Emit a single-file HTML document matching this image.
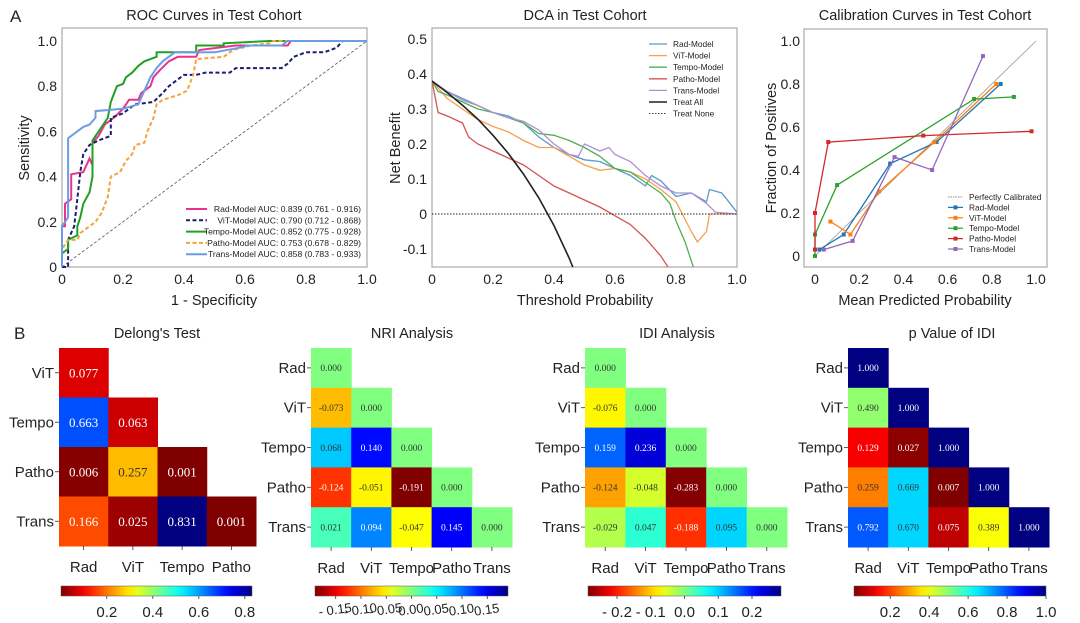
<!DOCTYPE html>
<html><head><meta charset="utf-8"><style>
html,body{margin:0;padding:0;background:#fff;}
svg{display:block;font-family:"Liberation Sans",sans-serif;}
</style></head><body>
<svg id="fig" width="1080" height="623" viewBox="0 0 1080 623" xmlns="http://www.w3.org/2000/svg"></svg>
<script>
// ---------- ROC data ----------
const rocNames=["Rad-Model AUC: 0.839 (0.761 - 0.916)","ViT-Model AUC: 0.790 (0.712 - 0.868)","Tempo-Model AUC: 0.852 (0.775 - 0.928)","Patho-Model AUC: 0.753 (0.678 - 0.829)","Trans-Model AUC: 0.858 (0.783 - 0.933)"];
const rocRad=[[0,0],[0,0.18],[0.01,0.18],[0.01,0.28],[0.03,0.30],[0.03,0.41],[0.07,0.42],[0.09,0.48],[0.10,0.45],[0.10,0.55],[0.12,0.58],[0.14,0.63],[0.17,0.66],[0.20,0.70],[0.22,0.74],[0.25,0.74],[0.26,0.77],[0.29,0.80],[0.30,0.84],[0.32,0.87],[0.35,0.91],[0.38,0.93],[0.44,0.93],[0.45,0.96],[0.57,0.98],[0.74,0.98],[0.75,1.0],[1,1]];
const rocViT=[[0,0],[0.02,0],[0.02,0.12],[0.04,0.18],[0.05,0.30],[0.06,0.42],[0.07,0.50],[0.09,0.54],[0.12,0.56],[0.16,0.58],[0.16,0.66],[0.20,0.68],[0.24,0.72],[0.30,0.73],[0.33,0.77],[0.35,0.80],[0.38,0.83],[0.40,0.85],[0.44,0.85],[0.47,0.86],[0.55,0.86],[0.57,0.88],[0.72,0.88],[0.74,0.90],[0.76,0.93],[0.80,0.95],[0.86,0.95],[0.90,0.97],[0.92,1.0],[1,1]];
const rocTempo=[[0,0],[0,0.06],[0.02,0.08],[0.02,0.12],[0.05,0.14],[0.05,0.18],[0.06,0.22],[0.07,0.28],[0.09,0.33],[0.10,0.40],[0.10,0.56],[0.13,0.62],[0.15,0.66],[0.16,0.73],[0.18,0.80],[0.20,0.81],[0.21,0.84],[0.23,0.86],[0.25,0.89],[0.27,0.91],[0.31,0.93],[0.31,0.95],[0.44,0.95],[0.44,0.98],[0.53,0.98],[0.53,0.99],[0.68,1.0],[1,1]];
const rocPatho=[[0,0],[0,0.08],[0.02,0.12],[0.05,0.12],[0.06,0.15],[0.08,0.17],[0.11,0.20],[0.13,0.24],[0.15,0.31],[0.16,0.40],[0.19,0.42],[0.21,0.47],[0.23,0.50],[0.24,0.54],[0.27,0.55],[0.28,0.60],[0.30,0.66],[0.31,0.72],[0.33,0.74],[0.38,0.76],[0.41,0.78],[0.43,0.85],[0.44,0.92],[0.53,0.93],[0.56,0.96],[0.62,0.98],[0.68,0.99],[0.69,1.0],[1,1]];
const rocTrans=[[0,0],[0,0.18],[0.02,0.22],[0.02,0.57],[0.05,0.60],[0.07,0.62],[0.09,0.63],[0.11,0.66],[0.11,0.69],[0.20,0.70],[0.25,0.72],[0.27,0.78],[0.29,0.84],[0.31,0.88],[0.33,0.91],[0.35,0.93],[0.37,0.95],[0.50,0.95],[0.58,0.97],[0.61,0.98],[0.72,0.98],[0.74,1.0],[1,1]];
const rocTicks=[0,0.2,0.4,0.6,0.8,1.0];
const rocTickLabels=["0","0.2","0.4","0.6","0.8","1.0"];
// ---------- DCA data ----------
const dcaNames=["Rad-Model","ViT-Model","Tempo-Model","Patho-Model","Trans-Model","Treat All","Treat None"];
const dcaRad=[[0,0.38],[0.05,0.35],[0.1,0.33],[0.15,0.31],[0.2,0.29],[0.25,0.28],[0.3,0.26],[0.35,0.22],[0.4,0.19],[0.45,0.17],[0.5,0.155],[0.55,0.15],[0.6,0.13],[0.65,0.11],[0.7,0.08],[0.72,0.11],[0.75,0.095],[0.8,0.05],[0.85,0.06],[0.9,0.035],[0.91,0.07],[0.95,0.06],[1.0,0.005]];
const dcaViT=[[0,0.38],[0.05,0.33],[0.1,0.30],[0.15,0.27],[0.2,0.25],[0.25,0.235],[0.3,0.21],[0.35,0.19],[0.4,0.19],[0.45,0.165],[0.5,0.14],[0.55,0.125],[0.6,0.13],[0.65,0.12],[0.7,0.10],[0.75,0.07],[0.8,0.035],[0.85,-0.05],[0.87,-0.08],[0.9,-0.05],[0.91,0],[1.0,0]];
const dcaTempo=[[0,0.38],[0.02,0.35],[0.05,0.34],[0.1,0.32],[0.15,0.30],[0.2,0.29],[0.25,0.275],[0.3,0.26],[0.35,0.23],[0.4,0.225],[0.45,0.21],[0.5,0.19],[0.55,0.165],[0.6,0.13],[0.65,0.12],[0.7,0.09],[0.75,0.06],[0.78,0.03],[0.8,-0.02],[0.83,-0.08],[0.86,-0.16]];
const dcaPatho=[[0,0.38],[0.02,0.29],[0.05,0.28],[0.1,0.26],[0.12,0.22],[0.15,0.20],[0.2,0.18],[0.25,0.16],[0.3,0.14],[0.35,0.11],[0.4,0.08],[0.45,0.06],[0.5,0.04],[0.55,0.02],[0.6,-0.005],[0.65,-0.03],[0.7,-0.07],[0.75,-0.12],[0.78,-0.16]];
const dcaTrans=[[0,0.38],[0.05,0.35],[0.1,0.325],[0.15,0.31],[0.2,0.29],[0.25,0.275],[0.3,0.265],[0.35,0.24],[0.4,0.2],[0.45,0.17],[0.48,0.165],[0.5,0.2],[0.55,0.18],[0.58,0.19],[0.6,0.17],[0.65,0.15],[0.7,0.11],[0.75,0.08],[0.8,0.06],[0.85,0.06],[0.9,0.03],[0.93,0.005],[1.0,0]];
const dcaAll=[[0,0.38],[0.05,0.347],[0.1,0.311],[0.15,0.271],[0.2,0.225],[0.25,0.173],[0.3,0.114],[0.35,0.046],[0.4,-0.033],[0.45,-0.127],[0.47,-0.170]];
const dcaNone=[[0,0],[1,0]];
const dcaYTicks=[-0.1,0,0.1,0.2,0.3,0.4,0.5];
const dcaYLabels=["-0.1","0","0.1","0.2","0.3","0.4","0.5"];
// ---------- Calibration data ----------
const calNames=["Rad-Model","ViT-Model","Tempo-Model","Patho-Model","Trans-Model"];
const calRad=[[0.02,0.03],[0.13,0.10],[0.34,0.43],[0.55,0.53],[0.84,0.80]];
const calViT=[[0.07,0.16],[0.16,0.10],[0.29,0.30],[0.54,0.53],[0.82,0.80]];
const calTempo=[[0,0],[0,0.10],[0.10,0.33],[0.72,0.73],[0.90,0.74]];
const calPatho=[[0,0.03],[0,0.20],[0.06,0.53],[0.49,0.56],[0.98,0.58]];
const calTrans=[[0.04,0.03],[0.17,0.07],[0.36,0.46],[0.53,0.40],[0.76,0.93]];
// ---------- Heatmap data ----------
const delongRows=["ViT","Tempo","Patho","Trans"];
const delongCols=["Rad","ViT","Tempo","Patho"];
const delongVals=[[0.077],[0.663,0.063],[0.006,0.257,0.001],[0.166,0.025,0.831,0.001]];
const delongTicks=[0.2,0.4,0.6,0.8];
const nriRows=["Rad","ViT","Tempo","Patho","Trans"];
const nriCols=["Rad","ViT","Tempo","Patho","Trans"];
const nriVals=[[0.000],[-0.073,0.000],[0.068,0.140,0.000],[-0.124,-0.051,-0.191,0.000],[0.021,0.094,-0.047,0.145,0.000]];
const nriTicks=[-0.15,-0.10,-0.05,0.00,0.05,0.10,0.15];
const idiVals=[[0.000],[-0.076,0.000],[0.159,0.236,0.000],[-0.124,-0.048,-0.283,0.000],[-0.029,0.047,-0.188,0.095,0.000]];
const idiTicks=[-0.2,-0.1,0.0,0.1,0.2];
const pidiVals=[[1.000],[0.490,1.000],[0.129,0.027,1.000],[0.259,0.669,0.007,1.000],[0.792,0.670,0.075,0.389,1.000]];
const pidiTicks=[0.2,0.4,0.6,0.8,1.0];

const NS="http://www.w3.org/2000/svg";
const svg=document.getElementById('fig');
function el(tag,attrs,parent,text){const e=document.createElementNS(NS,tag);for(const k in attrs)e.setAttribute(k,attrs[k]);if(text!==undefined)e.textContent=text;(parent||svg).appendChild(e);return e;}
function lin(d0,d1,r0,r1){return v=>r0+(v-d0)*(r1-r0)/(d1-d0);}
function pts(arr,sx,sy){return arr.map(p=>sx(p[0]).toFixed(1)+","+sy(p[1]).toFixed(1)).join(" ");}
function txt(x,y,s,size,anchor,name,extra){const t=el('text',Object.assign({x:x,y:y,'font-size':size,'text-anchor':anchor||'middle',fill:'#222'},extra||{}),svg,s);return t;}

// panel letters
txt(10,22,"A",17,"start","panel-label-a");
txt(14,339,"B",17,"start","panel-label-b");

// ===== ROC =====
{
const sx=lin(0,1,62,367), sy=lin(0,1,267,41);
const g=el('g',{});
const fr=el('rect',{x:62,y:28,width:305,height:239,fill:'none',stroke:'#aaa','stroke-width':1.2},g);

txt(214,20,"ROC Curves in Test Cohort",14.5,"middle","roc-title");
rocTicks.forEach((v,i)=>{txt(sx(v),284,rocTickLabels[i],14,"middle","roc-x-tick");txt(57,sy(v)+5,rocTickLabels[i],14,"end","roc-y-tick");});
txt(214,305,"1 - Specificity",14.5,"middle","roc-x-axis-title");
txt(29,148,"Sensitivity",14.5,"middle","roc-y-axis-title",{transform:"rotate(-90 29 148)"});
const diag=el('line',{x1:sx(0),y1:sy(0),x2:sx(1),y2:sy(1),stroke:'#555','stroke-width':0.8,'stroke-dasharray':'3,2'},g);

const series=[[rocRad,'#e8338f',null],[rocViT,'#1a1f6e','4,2.5'],[rocTempo,'#22a022',null],[rocPatho,'#f2a33a','4,2.5'],[rocTrans,'#6b9de6',null]];
const snames=['roc-line-rad','roc-line-vit','roc-line-tempo','roc-line-patho','roc-line-trans'];
series.forEach((s,i)=>{const a={points:pts(s[0],sx,sy),fill:'none',stroke:s[1],'stroke-width':2};if(s[2])a['stroke-dasharray']=s[2];const p=el('polyline',a,g);});
series.forEach((s,i)=>{const y=209+i*11.3;const a={x1:186,x2:207,y1:y,y2:y,stroke:s[1],'stroke-width':2};if(s[2])a['stroke-dasharray']=s[2];const l=el('line',a,g);txt(361,y+3,rocNames[i],8.6,"end","roc-legend-entry");});
}

// ===== DCA =====
{
const sx=lin(0,1,432,737), sy=lin(0,0.5,214,39);
const g=el('g',{});
const cp=el('clipPath',{id:'dcaclip'},g);el('rect',{x:432,y:28,width:305,height:239},cp);
const fr=el('rect',{x:432,y:28,width:305,height:239,fill:'none',stroke:'#aaa','stroke-width':1.2},g);

txt(585,20,"DCA in Test Cohort",14.5,"middle","dca-title");
rocTicks.forEach((v,i)=>txt(sx(v),284,rocTickLabels[i],14,"middle","dca-x-tick"));
dcaYTicks.forEach((v,i)=>txt(427,sy(v)+5,dcaYLabels[i],14,"end","dca-y-tick"));
txt(585,305,"Threshold Probability",14.5,"middle","dca-x-axis-title");
txt(400,148,"Net  Benefit",14.5,"middle","dca-y-axis-title",{transform:"rotate(-90 400 148)"});
const series=[[dcaRad,'#5b9bc9',1.3,null],[dcaViT,'#f5a04c',1.3,null],[dcaTempo,'#4fb04f',1.3,null],[dcaPatho,'#d25555',1.3,null],[dcaTrans,'#b08fd6',1.3,null],[dcaAll,'#222',1.6,null],[dcaNone,'#222',0.9,'1.5,1.5']];
const snames=['dca-line-rad','dca-line-vit','dca-line-tempo','dca-line-patho','dca-line-trans','dca-line-treat-all','dca-line-treat-none'];
series.forEach((s,i)=>{const a={points:pts(s[0],sx,sy),fill:'none',stroke:s[1],'stroke-width':s[2],'clip-path':'url(#dcaclip)'};if(s[3])a['stroke-dasharray']=s[3];const p=el('polyline',a,g);});
series.forEach((s,i)=>{const y=44+i*11.6;const a={x1:649,x2:667,y1:y,y2:y,stroke:s[1],'stroke-width':s[2]};if(s[3])a['stroke-dasharray']=s[3];const l=el('line',a,g);txt(673,y+3,dcaNames[i],8.3,"start","dca-legend-entry");});
}

// ===== Calibration =====
{
const sx=lin(0,1,815,1036), sy=lin(0,1,256,41);
const g=el('g',{});
const fr=el('rect',{x:804,y:29,width:243,height:238,fill:'none',stroke:'#aaa','stroke-width':1.2},g);

txt(925,20,"Calibration Curves in Test Cohort",14.5,"middle","calibration-title");
rocTicks.forEach((v,i)=>{txt(sx(v),284,rocTickLabels[i],14,"middle","calibration-x-tick");txt(800,sy(v)+5,rocTickLabels[i],14,"end","calibration-y-tick");});
txt(925,305,"Mean Predicted Probability",14.5,"middle","calibration-x-axis-title");
txt(776,148,"Fraction of Positives",14.5,"middle","calibration-y-axis-title",{transform:"rotate(-90 776 148)"});
const pc=el('line',{x1:sx(0),y1:sy(0),x2:sx(1),y2:sy(1),stroke:'#999','stroke-width':0.8},g);

const series=[[calRad,'#1f77b4'],[calViT,'#ff7f0e'],[calTempo,'#2ca02c'],[calPatho,'#d62728'],[calTrans,'#9467bd']];
const snames=['calibration-line-rad','calibration-line-vit','calibration-line-tempo','calibration-line-patho','calibration-line-trans'];
series.forEach((s,i)=>{const p=el('polyline',{points:pts(s[0],sx,sy),fill:'none',stroke:s[1],'stroke-width':1.3},g);
s[0].forEach(q=>{const m=el('rect',{x:sx(q[0])-2,y:sy(q[1])-2,width:4,height:4,fill:s[1]},g);});});
const ly=197;
const l0=el('line',{x1:948,x2:963,y1:ly,y2:ly,stroke:'#666','stroke-width':0.8,'stroke-dasharray':'1.5,1'},g);
txt(969,ly+3,"Perfectly Calibrated",8.3,"start","calibration-legend-entry");
series.forEach((s,i)=>{const y=ly+(i+1)*10.4;const l=el('line',{x1:948,x2:963,y1:y,y2:y,stroke:s[1],'stroke-width':1.2},g);const m=el('rect',{x:953.5,y:y-2,width:4,height:4,fill:s[1]},g);txt(969,y+3,calNames[i],8.3,"start","calibration-legend-entry");});
}

// ===== Heatmaps =====
function jetR(t){t=Math.max(0,Math.min(1,1-t));const c=v=>Math.max(0,Math.min(1,v));return [c(1.5-Math.abs(4*t-3)),c(1.5-Math.abs(4*t-2)),c(1.5-Math.abs(4*t-1))];}
function rgb(c){return 'rgb('+c.map(v=>Math.round(v*255)).join(',')+')';}
let gid=0;
function heatmap(o){
  const g=el('g',{});
  txt(o.titleX,338,o.title,14.5,"middle",o.name+"-title");
  const nr=o.rows.length,nc=o.cols.length;const cw=(o.x1-o.x0)/nc,ch=(o.y1-o.y0)/nr;
  o.vals.forEach((row,r)=>row.forEach((v,c)=>{
    const col=jetR((v-o.vmin)/(o.vmax-o.vmin));
    const rc=el('rect',{x:o.x0+c*cw,y:o.y0+r*ch,width:cw+0.5,height:ch+0.5,fill:rgb(col)},g);
    
    const lum=0.299*col[0]+0.587*col[1]+0.114*col[2];
    const t=el('text',{x:o.x0+c*cw+cw/2,y:o.y0+r*ch+ch/2+o.fs*0.35,'font-size':o.fs,'text-anchor':'middle','font-family':'"Liberation Serif",serif',fill:lum<0.5?'#fff':'#333'},g,v.toFixed(3));
    
  }));
  o.rows.forEach((s,r)=>{const y=o.y0+r*ch+ch/2;el('line',{x1:o.x0-4,x2:o.x0,y1:y,y2:y,stroke:'#333','stroke-width':0.8},g);txt(o.x0-5,y+5,s,15,"end",o.name+"-row-label");});
  o.cols.forEach((s,c)=>{const x=o.x0+c*cw+cw/2;el('line',{x1:x,x2:x,y1:o.y1,y2:o.y1+4,stroke:'#333','stroke-width':0.8},g);txt(x,o.y1+26,s,15,"middle",o.name+"-col-label");});
  // colorbar
  const id='cb'+(gid++);const lg=el('linearGradient',{id:id,x1:0,x2:1,y1:0,y2:0},g);
  for(let i=0;i<=20;i++){el('stop',{offset:(i/20),'stop-color':rgb(jetR(i/20))},lg);}
  const cb=el('rect',{x:o.cbx0,y:586,width:o.cbx1-o.cbx0,height:10,fill:'url(#'+id+')',stroke:'#555','stroke-width':0.5},g);
  
  const cs=lin(o.vmin,o.vmax,o.cbx0,o.cbx1);
  o.ticks.forEach(v=>{const x=cs(v);el('line',{x1:x,x2:x,y1:596,y2:599,stroke:'#333','stroke-width':0.8},g);
    const lab=o.fmt(v);
    if(o.rot){txt(x,614,lab,13,"middle",o.name+"-colorbar-tick",{transform:'rotate(-8 '+x+' 614)'});}
    else txt(x,617,lab,15,"middle",o.name+"-colorbar-tick");});
}
heatmap({name:'delong-heatmap',title:"Delong's Test",titleX:157,rows:delongRows,cols:delongCols,vals:delongVals,x0:59,x1:256,y0:348,y1:546,vmin:0.001,vmax:0.831,fs:13,cbx0:61,cbx1:252,ticks:delongTicks,fmt:v=>v.toFixed(1)});
heatmap({name:'nri-heatmap',title:"NRI Analysis",titleX:412,rows:nriRows,cols:nriCols,vals:nriVals,x0:311,x1:512,y0:348,y1:547,vmin:-0.191,vmax:0.191,fs:9.5,cbx0:315,cbx1:508,ticks:nriTicks,fmt:v=>(v<0?'- ':'')+Math.abs(v).toFixed(2),rot:true});
heatmap({name:'idi-heatmap',title:"IDI Analysis",titleX:677,rows:nriRows,cols:nriCols,vals:idiVals,x0:585,x1:787,y0:348,y1:547,vmin:-0.286,vmax:0.286,fs:9.5,cbx0:588,cbx1:781,ticks:idiTicks,fmt:v=>(v<0?'- ':'')+Math.abs(v).toFixed(1)});
heatmap({name:'p-idi-heatmap',title:"p Value of IDI",titleX:952,rows:nriRows,cols:nriCols,vals:pidiVals,x0:848,x1:1049,y0:348,y1:547,vmin:0.014,vmax:1.0,fs:9.5,cbx0:854,cbx1:1046,ticks:pidiTicks,fmt:v=>v.toFixed(1)});
</script>
</body></html>
